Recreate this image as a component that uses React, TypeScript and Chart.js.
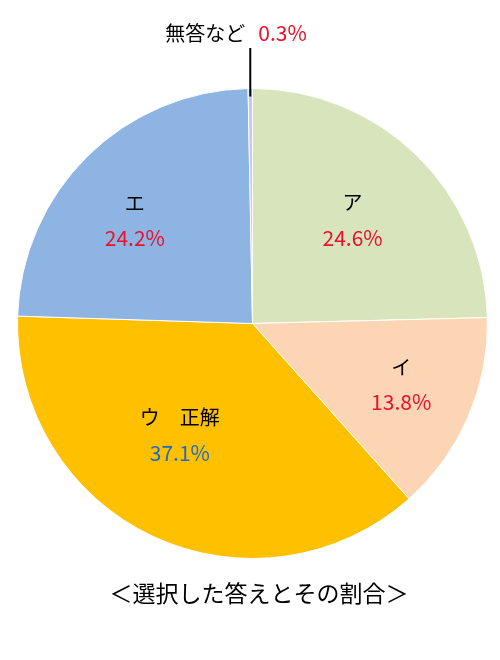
import { useEffect, useRef } from "react";
import { Chart, ChartConfiguration, Plugin, registerables } from "chart.js";

Chart.register(...registerables);

const categories = ["ア", "イ", "ウ　正解", "エ", "無答など"];
const percents = [24.6, 13.8, 37.1, 24.2, 0.3];
const sliceColors = ["#D8E4BC", "#FCD5B5", "#FFC000", "#8DB4E2", "#C6C6F7"];
const valueColors = ["#E8112D", "#E8112D", "#1F6BC2", "#E8112D", "#E8112D"];
const caption = "＜選択した答えとその割合＞";

const FONT = "'Noto Sans CJK JP', 'Noto Sans', sans-serif";

// radial position of each inside label (fraction of radius) and small nudges
const labelRadius = [0.61, 0.68, 0.56, 0.67];
const labelNudge = [
  { dx: 0, dy: -1 },
  { dx: 2, dy: -3 },
  { dx: -17, dy: -8 },
  { dx: -7, dy: 9 },
];

const labelPlugin: Plugin<"pie"> = {
  id: "sliceLabels",
  afterDraw(chart) {
    const ctx = chart.ctx;
    const meta = chart.getDatasetMeta(0);
    ctx.save();
    ctx.textAlign = "center";
    ctx.textBaseline = "middle";
    meta.data.forEach((el: any, i) => {
      const { x, y, startAngle, endAngle, outerRadius } = el.getProps(
        ["x", "y", "startAngle", "endAngle", "outerRadius"],
        true
      );
      const mid = (startAngle + endAngle) / 2;
      const text = percents[i].toFixed(1) + "%";
      if (i < labelRadius.length) {
        const r = outerRadius * labelRadius[i];
        const px = x + Math.cos(mid) * r + labelNudge[i].dx;
        const py = y + Math.sin(mid) * r + labelNudge[i].dy;
        ctx.font = `20px ${FONT}`;
        ctx.fillStyle = "#000000";
        ctx.fillText(categories[i], px, py - 17);
        ctx.font = `21px ${FONT}`;
        ctx.fillStyle = valueColors[i];
        ctx.fillText(text, px, py + 18);
      } else {
        // outside label with leader line
        const lx = x + Math.cos(mid) * outerRadius;
        const ly = y + Math.sin(mid) * outerRadius;
        ctx.strokeStyle = "#000000";
        ctx.lineWidth = 2;
        ctx.beginPath();
        ctx.moveTo(lx, ly + 8);
        ctx.lineTo(lx, 48);
        ctx.stroke();
        ctx.font = `20px ${FONT}`;
        ctx.textAlign = "right";
        ctx.fillStyle = "#000000";
        ctx.fillText(categories[i], lx - 5, 33);
        ctx.textAlign = "left";
        ctx.font = `21px ${FONT}`;
        ctx.fillStyle = valueColors[i];
        ctx.fillText(text, lx + 8, 33);
        ctx.textAlign = "center";
      }
    });
    ctx.font = `23px ${FONT}`;
    ctx.fillStyle = "#000000";
    ctx.fillText(caption, 259, 593);
    ctx.restore();
  },
};

export default function App() {
  const chartRef = useRef<HTMLCanvasElement | null>(null);

  useEffect(() => {
    if (!chartRef.current) return;
    const config: ChartConfiguration<"pie"> = {
      type: "pie",
      data: {
        labels: categories,
        datasets: [
          {
            data: percents,
            backgroundColor: sliceColors,
            borderColor: "#ffffff",
            borderWidth: 1,
          },
        ],
      },
      options: {
        responsive: false,
        animation: false,
        layout: { padding: { left: 17, right: 12, top: 88, bottom: 101 } },
        plugins: {
          legend: { display: false },
          tooltip: { enabled: false },
        },
      },
      plugins: [labelPlugin],
    };
    const chart = new Chart(chartRef.current, config);
    return () => {
      chart.destroy();
    };
  }, []);

  return (
    <div style={{ position: "fixed", left: 0, top: 0, width: 500, height: 660, background: "#ffffff" }}>
      <canvas ref={chartRef} width={500} height={660} style={{ width: 500, height: 660 }}></canvas>
    </div>
  );
}
